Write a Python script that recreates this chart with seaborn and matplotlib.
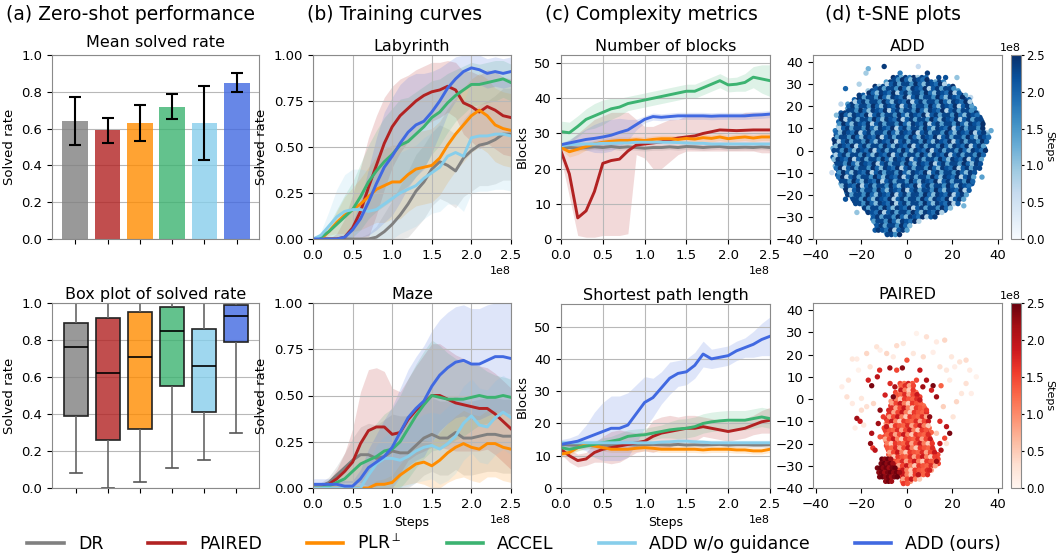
import numpy as np
import pandas as pd
import matplotlib
matplotlib.use("Agg")
import matplotlib.pyplot as plt
import seaborn as sns
from matplotlib.colors import Normalize
from matplotlib.cm import ScalarMappable
from matplotlib.lines import Line2D

# Methods and colours
methods = ['DR', 'PAIRED', 'PLR$^{\\perp}$', 'ACCEL', 'ADD w/o guidance', 'ADD (ours)']
colors = ['gray', 'firebrick', 'darkorange', 'mediumseagreen', 'skyblue', 'royalblue']

# (a) zero-shot performance
mean_rate = [0.64, 0.59, 0.63, 0.72, 0.63, 0.85]
err_low = [0.51, 0.52, 0.53, 0.65, 0.43, 0.80]
err_high = [0.77, 0.66, 0.73, 0.79, 0.83, 0.90]
box_min = [0.08, 0.00, 0.03, 0.11, 0.15, 0.30]
box_q1 = [0.39, 0.26, 0.32, 0.55, 0.41, 0.79]
box_med = [0.76, 0.62, 0.71, 0.85, 0.66, 0.93]
box_q3 = [0.89, 0.92, 0.95, 0.98, 0.86, 0.99]
box_max = [1.00, 1.00, 1.00, 1.00, 1.00, 1.00]

# (b), (c) training curves, x in units of 1e8 steps
steps_1e8 = [0.0, 0.1, 0.2, 0.3, 0.4, 0.5, 0.6, 0.7, 0.8, 0.9, 1.0, 1.1, 1.2,
             1.3, 1.4, 1.5, 1.6, 1.7, 1.8, 1.9, 2.0, 2.1, 2.2, 2.3, 2.4, 2.5]

lab_dr = [0, 0, 0, 0, 0, 0, 0, 0, 0.01, 0.04, 0.08, 0.13, 0.19, 0.26, 0.31, 0.38, 0.42, 0.40, 0.37, 0.44, 0.48, 0.51, 0.52, 0.54, 0.57, 0.57]
lab_paired = [0, 0, 0, 0, 0.01, 0.06, 0.15, 0.28, 0.40, 0.52, 0.61, 0.67, 0.71, 0.75, 0.78, 0.80, 0.81, 0.83, 0.81, 0.74, 0.72, 0.69, 0.72, 0.70, 0.67, 0.66]
lab_plr = [0, 0, 0.04, 0.09, 0.13, 0.16, 0.19, 0.23, 0.27, 0.29, 0.31, 0.31, 0.35, 0.38, 0.39, 0.40, 0.44, 0.51, 0.57, 0.62, 0.67, 0.70, 0.67, 0.62, 0.60, 0.59]
lab_accel = [0, 0.01, 0.04, 0.08, 0.12, 0.16, 0.23, 0.31, 0.37, 0.42, 0.46, 0.51, 0.53, 0.57, 0.61, 0.66, 0.69, 0.74, 0.78, 0.81, 0.84, 0.84, 0.85, 0.86, 0.87, 0.85]
lab_nog = [0, 0.02, 0.07, 0.12, 0.15, 0.16, 0.16, 0.15, 0.16, 0.19, 0.22, 0.25, 0.27, 0.29, 0.33, 0.36, 0.39, 0.45, 0.47, 0.45, 0.55, 0.56, 0.56, 0.57, 0.57, 0.56]
lab_add = [0, 0, 0, 0, 0.01, 0.05, 0.11, 0.20, 0.30, 0.39, 0.45, 0.52, 0.58, 0.62, 0.64, 0.69, 0.75, 0.82, 0.87, 0.91, 0.93, 0.92, 0.90, 0.91, 0.90, 0.91]

lab_dr_sd = [0, 0, 0, 0, 0, 0, 0.01, 0.03, 0.06, 0.10, 0.13, 0.16, 0.18, 0.20, 0.20, 0.20, 0.20, 0.20, 0.20, 0.21, 0.22, 0.22, 0.23, 0.24, 0.25, 0.25]
lab_paired_sd = [0, 0, 0, 0.03, 0.10, 0.18, 0.24, 0.27, 0.27, 0.25, 0.22, 0.20, 0.18, 0.17, 0.16, 0.16, 0.15, 0.14, 0.15, 0.17, 0.19, 0.20, 0.20, 0.21, 0.21, 0.21]
lab_plr_sd = [0, 0, 0.02, 0.06, 0.10, 0.12, 0.14, 0.16, 0.18, 0.20, 0.20, 0.20, 0.20, 0.20, 0.20, 0.20, 0.20, 0.20, 0.20, 0.20, 0.20, 0.20, 0.20, 0.20, 0.20, 0.20]
lab_accel_sd = [0, 0.01, 0.04, 0.08, 0.12, 0.15, 0.18, 0.20, 0.22, 0.24, 0.25, 0.25, 0.24, 0.23, 0.22, 0.20, 0.18, 0.16, 0.14, 0.13, 0.12, 0.11, 0.11, 0.11, 0.10, 0.10]
lab_nog_sd = [0, 0.02, 0.08, 0.15, 0.20, 0.22, 0.22, 0.22, 0.22, 0.22, 0.22, 0.22, 0.22, 0.22, 0.22, 0.22, 0.24, 0.26, 0.28, 0.30, 0.30, 0.30, 0.30, 0.30, 0.30, 0.30]
lab_add_sd = [0, 0, 0, 0, 0.01, 0.04, 0.10, 0.18, 0.25, 0.30, 0.32, 0.32, 0.30, 0.28, 0.26, 0.22, 0.18, 0.14, 0.12, 0.10, 0.08, 0.08, 0.08, 0.08, 0.08, 0.08]

maze_dr = [0.01, 0.01, 0.03, 0.07, 0.11, 0.15, 0.18, 0.18, 0.16, 0.17, 0.20, 0.19, 0.19, 0.23, 0.27, 0.29, 0.27, 0.27, 0.30, 0.27, 0.27, 0.28, 0.29, 0.29, 0.28, 0.28]
maze_paired = [0, 0, 0.02, 0.05, 0.09, 0.14, 0.24, 0.31, 0.33, 0.33, 0.29, 0.30, 0.37, 0.42, 0.46, 0.50, 0.50, 0.48, 0.46, 0.45, 0.44, 0.43, 0.43, 0.40, 0.36, 0.32]
maze_plr = [0, 0, 0, 0, 0, 0, 0, 0, 0.02, 0.02, 0.03, 0.07, 0.10, 0.13, 0.14, 0.12, 0.15, 0.19, 0.22, 0.24, 0.22, 0.21, 0.24, 0.24, 0.22, 0.21]
maze_accel = [0, 0, 0.01, 0.03, 0.05, 0.09, 0.13, 0.15, 0.17, 0.20, 0.21, 0.25, 0.32, 0.39, 0.45, 0.50, 0.49, 0.48, 0.48, 0.48, 0.49, 0.50, 0.49, 0.49, 0.50, 0.49]
maze_nog = [0, 0, 0, 0, 0, 0, 0, 0.07, 0.13, 0.16, 0.16, 0.15, 0.17, 0.20, 0.22, 0.23, 0.21, 0.24, 0.28, 0.35, 0.39, 0.34, 0.33, 0.38, 0.41, 0.38]
maze_add = [0.02, 0.02, 0.02, 0.02, 0.01, 0.01, 0.05, 0.11, 0.14, 0.17, 0.22, 0.30, 0.38, 0.43, 0.47, 0.55, 0.61, 0.65, 0.68, 0.69, 0.67, 0.67, 0.69, 0.71, 0.71, 0.70]

maze_dr_sd = [0.02, 0.02, 0.03, 0.05, 0.08, 0.12, 0.15, 0.17, 0.18, 0.20, 0.20, 0.20, 0.20, 0.20, 0.20, 0.20, 0.20, 0.20, 0.20, 0.20, 0.20, 0.20, 0.20, 0.20, 0.20, 0.20]
maze_paired_sd = [0, 0, 0.02, 0.05, 0.10, 0.18, 0.28, 0.33, 0.32, 0.30, 0.25, 0.22, 0.22, 0.24, 0.26, 0.28, 0.28, 0.27, 0.26, 0.25, 0.24, 0.23, 0.22, 0.22, 0.22, 0.22]
maze_plr_sd = [0, 0, 0, 0, 0, 0, 0, 0.01, 0.02, 0.03, 0.04, 0.06, 0.08, 0.10, 0.12, 0.13, 0.15, 0.16, 0.17, 0.18, 0.18, 0.18, 0.18, 0.18, 0.18, 0.18]
maze_accel_sd = [0, 0, 0.01, 0.03, 0.05, 0.08, 0.12, 0.15, 0.18, 0.20, 0.22, 0.25, 0.27, 0.28, 0.29, 0.30, 0.28, 0.25, 0.22, 0.20, 0.18, 0.16, 0.14, 0.12, 0.10, 0.10]
maze_nog_sd = [0.02, 0.02, 0.02, 0.02, 0.02, 0.02, 0.03, 0.06, 0.10, 0.12, 0.14, 0.15, 0.16, 0.17, 0.18, 0.18, 0.19, 0.20, 0.20, 0.20, 0.20, 0.20, 0.20, 0.20, 0.20, 0.20]
maze_add_sd = [0.03, 0.03, 0.03, 0.03, 0.03, 0.03, 0.05, 0.10, 0.15, 0.20, 0.22, 0.24, 0.26, 0.28, 0.30, 0.30, 0.30, 0.30, 0.30, 0.30, 0.30, 0.30, 0.30, 0.30, 0.30, 0.30]

blk_dr = [26, 26, 25.8, 26, 26.2, 26, 26.3, 26, 26.2, 26, 25.8, 26, 26, 26.2, 26, 26.3, 26.2, 26, 26.2, 26.3, 26, 26, 26.1, 26, 26.2, 26]
blk_paired = [25, 18.5, 6, 8, 13.5, 21.5, 22.3, 22.7, 25, 26.7, 27, 27.3, 27.6, 28.2, 28.7, 29, 29.3, 30, 30.5, 31, 30.9, 30.8, 30.9, 31, 31, 31]
blk_plr = [26, 24.8, 25.5, 26.3, 27, 27.5, 27.8, 28, 28, 28.2, 28, 28.3, 28.5, 28.5, 28.3, 28.6, 28.4, 28.8, 28.6, 29, 28.5, 28.8, 29, 28.7, 29, 29]
blk_accel = [30.5, 30.2, 32, 34, 35, 36, 37, 37.5, 38.5, 39, 39.5, 40, 40.5, 41, 41.5, 42, 42, 43, 44, 45, 43.8, 44, 44.5, 46, 45.5, 45]
blk_nog = [26.5, 26.8, 27, 27, 27, 27.2, 27.2, 27.3, 27.3, 27.5, 27.5, 27.5, 27.5, 27.5, 27.4, 27.3, 27.2, 27.2, 27, 27, 27, 27, 27, 27, 27, 27]
blk_add = [26.8, 27.3, 27.8, 28.3, 28.6, 29, 29.5, 30.3, 31, 32.5, 34, 34.8, 34.6, 34.8, 35, 35, 35, 35, 34.9, 35, 35, 35, 35, 35.2, 35.3, 35.5]

blk_dr_sd = [0.8, 0.8, 0.8, 0.8, 0.8, 0.8, 0.8, 0.8, 0.8, 0.8, 0.8, 0.8, 0.8, 0.8, 0.8, 0.8, 0.8, 0.8, 0.8, 0.8, 0.8, 0.8, 0.8, 0.8, 0.8, 0.8]
blk_paired_lo = [23, 12, 1, 0.5, 0.5, 1, 1, 1, 1.5, 24, 23, 20, 20, 22, 24, 25, 25, 25, 25, 25, 25, 25, 25, 25, 24.5, 24.5]
blk_paired_hi = [27, 28, 30, 32, 34, 35, 36, 36, 36, 34, 32, 32, 33, 34, 34, 35, 35, 35, 35, 35, 35, 35, 36, 36, 36, 36]
blk_plr_sd = [0.5, 1.5, 1.5, 1, 1, 1, 1, 1, 1, 1, 1, 1, 1, 1, 1, 1, 1, 1, 1, 1, 1, 1, 1, 1, 1, 1]
blk_accel_sd = [3, 3, 3, 3, 3.5, 3.5, 3, 2.5, 2, 2, 2, 2, 2, 2, 2, 2, 2, 2, 2, 2, 2, 2, 2.5, 3, 4, 4.5]
blk_nog_sd = [0.6, 0.6, 0.6, 0.6, 0.6, 0.6, 0.6, 0.6, 0.6, 0.6, 0.6, 0.6, 0.6, 0.6, 0.6, 0.6, 0.6, 0.6, 0.6, 0.6, 0.6, 0.6, 0.6, 0.6, 0.6, 0.6]
blk_add_sd = [0.5, 1, 2, 3, 4, 4.5, 4.5, 4, 3, 1.5, 1, 1, 1, 1, 1, 1, 1, 1, 1, 1, 1, 1, 1, 1, 1, 1]

sp_dr = [13.5, 13.3, 13.2, 13.5, 13.5, 13.3, 13.2, 13.4, 13.5, 13.3, 13.4, 13.5, 13.4, 13.3, 13.5, 13.3, 13.4, 13.3, 13.4, 13.5, 13.3, 13.4, 13.4, 13.3, 13.3, 13.4]
sp_paired = [12, 10, 8.5, 9, 11, 12, 12.5, 13, 13.5, 14, 14.5, 16, 17, 17.5, 18, 18.5, 18.5, 19, 18.5, 18, 17.5, 18, 18.5, 19.5, 20.5, 21]
sp_plr = [10.5, 11, 12.5, 13.5, 13, 12.5, 12, 12, 12, 12.3, 12.5, 12.3, 12, 12, 12, 12, 12, 11.8, 12, 12, 12, 11.8, 11.8, 11.5, 11.5, 12]
sp_accel = [12.5, 12, 12.5, 13, 13.5, 14, 14.5, 15, 16, 16.3, 16.5, 17, 17.5, 18, 18.3, 18.5, 19, 20, 20.5, 20.8, 21, 21, 21, 21.5, 22, 21.5]
sp_nog = [14, 14, 14, 14, 14, 14, 14, 14, 14, 14, 14, 14, 14.2, 14.3, 14.5, 14.5, 14.3, 14.2, 14, 14, 14, 14, 14, 14, 14, 14]
sp_add = [13.5, 14, 14.5, 15.5, 16.5, 17.5, 18.5, 18.5, 19.5, 23, 26.5, 28, 31, 34, 35.5, 36, 38, 41.5, 40, 40.5, 41, 42.5, 43.5, 44.5, 46, 47]

sp_dr_sd = [0.8, 0.8, 0.8, 0.8, 0.8, 0.8, 0.8, 0.8, 0.8, 0.8, 0.8, 0.8, 0.8, 0.8, 0.8, 0.8, 0.8, 0.8, 0.8, 0.8, 0.8, 0.8, 0.8, 0.8, 0.8, 0.8]
sp_paired_sd = [1.5, 2, 2, 2, 3, 4, 5, 5, 4, 3, 3, 5, 5, 5, 4, 4, 4, 3, 3, 3, 3, 3, 3, 3, 3.5, 4]
sp_plr_sd = [1, 1, 1, 1, 1, 1, 1, 1, 1, 1, 1, 1, 1, 1, 1, 1, 1, 1, 1, 1, 1, 1, 1, 1, 1, 1]
sp_accel_sd = [1.5, 1, 1, 1, 1, 1.5, 1.5, 2, 2, 2, 2, 2, 2, 2.5, 3, 3, 3, 3, 3, 3, 3, 3, 3, 3, 3, 3]
sp_nog_sd = [0.8, 0.8, 0.8, 0.8, 0.8, 0.8, 0.8, 0.8, 0.8, 0.8, 0.8, 0.8, 0.8, 0.8, 0.8, 0.8, 0.8, 0.8, 0.8, 0.8, 0.8, 0.8, 0.8, 0.8, 0.8, 0.8]
sp_add_sd = [1.5, 1.5, 2, 4, 7, 9, 10, 10, 10, 9, 8, 6, 5, 5, 4, 4, 4, 4, 3, 3, 3, 3, 3, 4, 5, 6]

# (d) t-SNE: dense regions as rows (y, x from, x to), scattered points listed
add_rows_y = [33, 31, 29, 27, 25, 23, 21, 19, 17, 15, 13, 11, 9, 7, 5, 3, 1, -1, -3, -5, -7, -9,
              -11, -13, -15, -17, -19, -21, -23, -25, -27, -29, -31, -33, -35, -37]
add_rows_x0 = [-6, -10, -14, -18, -21, -24, -26, -27, -29, -30, -30, -31, -31.5, -32, -32, -32.5, -32.5, -32.5,
               -32.5, -32, -31.5, -31, -30.5, -30, -29, -28, -26.5, -25, -23, -20, -17.5, -16, -15, -14.5, -13, -10]
add_rows_x1 = [10, 17, 21, 24, 26, 28, 29, 30, 31, 33, 34, 34, 35, 36, 35.5, 35, 35, 34.5,
               34, 33, 32, 31, 30.5, 30, 29, 28, 26.5, 25, 22.5, 20, 17, 13, 6, 2, 1, -2]
add_cycle_a = [2.5, 2.2, 1.3, 2.4, 1.8, 2.5, 0.9, 2.3, 2.0, 1.5, 2.4, 2.1, 0.6, 2.5, 1.7, 2.2, 2.4, 1.2, 2.0]
add_cycle_b = [2.3, 1.6, 2.5, 2.0, 1.1, 2.4, 2.2, 1.9, 2.5, 0.8, 2.1, 2.4, 1.4, 2.3]
add_edge_x = [-10, 5, -17, -18, 14, 17, 22, -27, -21, -29, -31, 35, 37, -33, -27, -22, -25, 33, 31, -3, 9, -14, 25, 28]
add_edge_y = [38, 38, 37, 35, 33, 33, 33, 28, 30, 21, 16, 8, 9, -10, -22, -28, -19, -12, 17, 35, 35, -36, -25, 24]
add_edge_steps = [2.4, 0.6, 1.2, 0.9, 2.3, 2.2, 1.0, 2.0, 0.8, 0.7, 1.1, 0.9, 1.3, 0.6, 2.2, 1.0, 0.8, 1.4, 0.9, 1.8, 2.4, 2.1, 1.2, 0.7]

paired_core_y = [7, 5, 3, 1, -1, -3, -5, -7, -9, -11, -13, -15, -17, -19, -21, -23, -25, -27, -29, -31, -33, -35, -37]
paired_core_x0 = [-3, -4, -5, -6, -7, -8, -8, -9, -9, -10, -10, -10, -10, -10, -9, -9, -8, -7, -6, -5, -4, -3, -2]
paired_core_x1 = [3, 4, 5, 6, 7, 8, 9, 9, 10, 10, 10, 11, 11, 12, 12, 13, 14, 14, 14, 12, 10, 6, 2]
paired_core_cycle_a = [1.5, 1.2, 1.8, 1.4, 0.7, 1.6, 2.0, 1.3, 1.5, 0.9, 1.7, 0.4]
paired_core_cycle_b = [1.3, 1.7, 0.8, 1.5, 1.9, 1.1, 0.5, 1.6, 1.4]
paired_dark_y = [-27, -29, -31, -33, -35, -37]
paired_dark_x0 = [-11, -12, -13, -13, -12, -10]
paired_dark_x1 = [-7, -5, -4, -3, -4, -6]
paired_dark_cycle = [2.5, 2.3, 2.45, 2.2, 2.4]
paired_mid_x = [-22, -20.6, -16, -15, -17, -15.5, -13, -12, -7.5, -4.5, -2, 0, 5.7, 8.6, 11.5, 15, 13, 10.8, 8.6, 10, 14.5,
                17.4, 18.8, 16.6, 14.5, 15, 13, 10, 5, -11.8, -10.4, -9, -12.6, -11.8, -14, -9.6, -6, -5.3, -7.4, 4.2, 7, 5.7, -15.5]
paired_mid_y = [-8.7, -10, -20, -22, 8.5, 6, 10, 13, 14, 13, 14, 17.5, 13, 8.5, 6, 6, 1, 4, -5, -8, -10,
                -12.4, -15.4, -17.6, -20, -23, -28, -32, -34, -5, -8, -12.4, -11, -17, -23, 1.8, 1, 5.5, 7, 8.5, 5.5, -0.4, -15.4]
paired_mid_steps = [2.2, 1.9, 2.3, 1.6, 1.8, 2.4, 2.0, 1.7, 2.2, 1.5, 2.3, 1.4, 1.9, 2.1, 2.4, 1.3, 2.2, 1.8, 1.6, 2.3, 1.7,
                    2.0, 2.4, 1.5, 1.9, 2.1, 2.2, 1.8, 2.0, 2.3, 1.6, 1.9, 2.2, 1.4, 2.0, 1.8, 2.4, 2.1, 1.7, 1.5, 2.2, 1.9, 2.1]
paired_faint_x = [-28.6, -26.4, -24, -22, -17.7, -13.3, -11.8, -4.5, -1.6, 4.2, 8.6, 13, 16.6, 19.6, 21, 23.2, 26, 27.6, 30.5,
                  26, 24, 28.3, 21.8, 20.3, -24, -20, -19, -22.8, -25.7, -21.3, -16.2, -8.9, -6, 2.8, 7.2, 11.5, 14.5, 17.4,
                  18.8, 16, 17.4, 13, -17.7, -14.7, -20]
paired_faint_y = [5.5, 1, 18, 18, 20.5, 23.5, 22, 24, 25, 29.5, 28, 25.7, 26.5, 19, 14.5, 16.7, 17.5, 13, 10,
                  7, 2.5, 2.5, -1.2, -8, -2, -5, -11.7, -13, 8.5, 13, 14.5, 20.5, 19, 20.5, 19, 21, 14.5, 13,
                  8.5, -3.4, -20, -15.4, -3.4, -2, 0.3]
paired_faint_steps = [0.1, 0.3, 0.2, 0.15, 0.4, 0.25, 0.1, 0.35, 0.2, 0.05, 0.3, 0.15, 0.4, 0.2, 0.1, 0.25, 0.35, 0.15, 0.05,
                      0.3, 0.2, 0.1, 0.4, 0.25, 0.15, 0.35, 0.2, 0.1, 0.3, 0.05, 0.25, 0.4, 0.15, 0.2, 0.35, 0.1, 0.3, 0.2,
                      0.15, 0.45, 0.25, 0.5, 0.3, 0.4, 0.2]

plt.rcParams.update({
    'font.family': 'DejaVu Sans',
    'axes.edgecolor': '#8a8a8a',
    'xtick.labelsize': 9.5,
    'ytick.labelsize': 9.5,
    'axes.titlesize': 11.5,
    'axes.labelsize': 9.5,
    'grid.color': '#b8b8b8',
    'grid.linewidth': 0.8,
})

fig = plt.figure(figsize=(10.56, 5.56), dpi=100)


def place(x0, x1, y0, y1):
    return [x0 / 1056, 1 - y1 / 556, (x1 - x0) / 1056, (y1 - y0) / 556]


ax_bar = fig.add_axes(place(52, 259, 55, 239))
ax_box = fig.add_axes(place(52, 259, 303, 488))
ax_lab = fig.add_axes(place(313, 511, 55, 239))
ax_maze = fig.add_axes(place(313, 511, 303, 488))
ax_blk = fig.add_axes(place(561, 770, 55, 239))
ax_sp = fig.add_axes(place(561, 770, 304, 488))
ax_t1 = fig.add_axes(place(813, 1002, 55, 239))
ax_t2 = fig.add_axes(place(813, 1002, 303, 488))
cax1 = fig.add_axes(place(1011, 1021, 55, 239))
cax2 = fig.add_axes(place(1011, 1021, 303, 488))

# ---- (a) bars
sns.barplot(x=methods, y=mean_rate, hue=methods, palette=colors, saturation=1, alpha=0.8,
            width=0.8, legend=False, ax=ax_bar)
m = np.array(mean_rate)
ax_bar.errorbar(range(6), m, yerr=[m - np.array(err_low), np.array(err_high) - m], fmt='none',
                ecolor='black', elinewidth=1.5, capsize=4, capthick=1.5)
ax_bar.set_ylim(0, 1)
ax_bar.set_xlim(-0.72, 5.69)
ax_bar.set_title('Mean solved rate')
ax_bar.set_ylabel('Solved rate')
ax_bar.set_xticks(range(6))
ax_bar.set_xticklabels([])
ax_bar.yaxis.grid(True)
ax_bar.set_axisbelow(True)

# ---- (a) boxes
rows = []
for i, name in enumerate(methods):
    for v in (box_min[i], box_q1[i], box_med[i], box_q3[i], box_max[i]):
        rows.append((name, v))
box_df = pd.DataFrame(rows, columns=['method', 'rate'])
sns.boxplot(data=box_df, x='method', y='rate', hue='method', order=methods, hue_order=methods,
            palette=colors, saturation=1, whis=(0, 100), width=0.73, linecolor='#222222', linewidth=1.2,
            whiskerprops={'color': '#666666'}, capprops={'color': '#555555'},
            medianprops={'color': 'black'}, legend=False, ax=ax_box)
for p in ax_box.patches:
    fc = p.get_facecolor()
    p.set_facecolor((fc[0], fc[1], fc[2], 0.8))
ax_box.set_ylim(0, 1)
ax_box.set_xlim(-0.75, 5.72)
ax_box.set_title('Box plot of solved rate', pad=3)
ax_box.set_ylabel('Solved rate')
ax_box.set_xlabel('')
ax_box.set_xticklabels([])
ax_box.yaxis.grid(True)
ax_box.set_axisbelow(True)


# ---- (b)/(c) curves
def draw_curves(ax, means, sds, ylim, title, ylabel, band_override=None):
    x = np.array(steps_1e8) * 1e8
    rows = []
    for name, vals in zip(methods, means):
        for s, v in zip(x, vals):
            rows.append((s, v, name))
    df = pd.DataFrame(rows, columns=['step', 'value', 'method'])
    for i, (vals, sd) in enumerate(zip(means, sds)):
        v = np.array(vals, dtype=float)
        if band_override is not None and i in band_override:
            lo, hi = (np.array(a, dtype=float) for a in band_override[i])
        else:
            lo, hi = v - np.array(sd), v + np.array(sd)
        ax.fill_between(x, np.clip(lo, ylim[0], ylim[1]), np.clip(hi, ylim[0], ylim[1]),
                        color=colors[i], alpha=0.17, lw=0)
    sns.lineplot(data=df, x='step', y='value', hue='method', hue_order=methods, palette=colors,
                 lw=2.1, errorbar=None, legend=False, ax=ax)
    ax.set_xlim(0, 2.5e8)
    ax.set_ylim(*ylim)
    ax.set_xticks([0, 0.5e8, 1.0e8, 1.5e8, 2.0e8, 2.5e8])
    ax.set_title(title, pad=3)
    ax.set_ylabel(ylabel)
    ax.set_xlabel('')
    ax.grid(True)
    ax.xaxis.get_offset_text().set_fontsize(8)


draw_curves(ax_lab, [lab_dr, lab_paired, lab_plr, lab_accel, lab_nog, lab_add],
            [lab_dr_sd, lab_paired_sd, lab_plr_sd, lab_accel_sd, lab_nog_sd, lab_add_sd],
            (0, 1), 'Labyrinth', 'Solved rate')
ax_lab.set_yticks([0, 0.25, 0.5, 0.75, 1.0])
draw_curves(ax_maze, [maze_dr, maze_paired, maze_plr, maze_accel, maze_nog, maze_add],
            [maze_dr_sd, maze_paired_sd, maze_plr_sd, maze_accel_sd, maze_nog_sd, maze_add_sd],
            (0, 1), 'Maze', 'Solved rate')
ax_maze.set_yticks([0, 0.25, 0.5, 0.75, 1.0])
ax_maze.set_xlabel('Steps', fontsize=9)
draw_curves(ax_blk, [blk_dr, blk_paired, blk_plr, blk_accel, blk_nog, blk_add],
            [blk_dr_sd, blk_dr_sd, blk_plr_sd, blk_accel_sd, blk_nog_sd, blk_add_sd],
            (0, 52.3), 'Number of blocks', 'Blocks', band_override={1: (blk_paired_lo, blk_paired_hi)})
ax_blk.set_yticks([0, 10, 20, 30, 40, 50])
draw_curves(ax_sp, [sp_dr, sp_paired, sp_plr, sp_accel, sp_nog, sp_add],
            [sp_dr_sd, sp_paired_sd, sp_plr_sd, sp_accel_sd, sp_nog_sd, sp_add_sd],
            (0, 57), 'Shortest path length', 'Blocks')
ax_sp.set_yticks([0, 10, 20, 30, 40, 50])
ax_sp.set_xlabel('Steps', fontsize=9)


# ---- (d) t-SNE
def rows_to_points(ys, x0s, x1s, spacing, cycle, dy=0.0, dx=0.0):
    px, py, pc = [], [], []
    k = 0
    for j, (y, a, b) in enumerate(zip(ys, x0s, x1s)):
        xv = a + dx + (spacing / 2 if j % 2 else 0)
        while xv <= b:
            px.append(xv)
            py.append(y + dy)
            pc.append(cycle[k % len(cycle)])
            k += 1
            xv += spacing
    return pd.DataFrame({'x': px, 'y': py, 'steps': pc})


def tsne_panel(ax, cax, frames, cmap, title):
    df = pd.concat(frames, ignore_index=True)
    df['steps'] = df['steps'] * 1e8
    sns.scatterplot(data=df, x='x', y='y', hue='steps', palette=cmap, hue_norm=(0, 2.5e8),
                    s=15, linewidth=0, legend=False, ax=ax)
    ax.set_xlim(-41.3, 41.8)
    ax.set_ylim(-40, 43.2)
    ax.set_xticks([-40, -20, 0, 20, 40])
    ax.set_yticks([-40, -30, -20, -10, 0, 10, 20, 30, 40])
    ax.set_xlabel('')
    ax.set_ylabel('')
    ax.set_title(title, pad=3)
    cb = fig.colorbar(ScalarMappable(norm=Normalize(0, 2.5e8), cmap=cmap), cax=cax)
    cb.ax.tick_params(labelsize=8.5, length=2.5, pad=1.2)
    cb.ax.yaxis.get_offset_text().set_fontsize(8)
    cb.outline.set_edgecolor('#8a8a8a')
    cb.set_label('Steps', rotation=270, labelpad=7, fontsize=8)


tsne_panel(ax_t1, cax1, [
    pd.DataFrame({'x': add_edge_x, 'y': add_edge_y, 'steps': add_edge_steps}),
    rows_to_points(add_rows_y, add_rows_x0, add_rows_x1, 1.8, add_cycle_a),
    rows_to_points(add_rows_y, add_rows_x0, add_rows_x1, 1.8, add_cycle_b, dy=-1.0, dx=0.45),
], 'Blues', 'ADD')

tsne_panel(ax_t2, cax2, [
    pd.DataFrame({'x': paired_faint_x, 'y': paired_faint_y, 'steps': paired_faint_steps}),
    rows_to_points(paired_core_y, paired_core_x0, paired_core_x1, 1.8, paired_core_cycle_a),
    rows_to_points(paired_core_y, paired_core_x0, paired_core_x1, 1.8, paired_core_cycle_b, dy=-1.0, dx=0.45),
    pd.DataFrame({'x': paired_mid_x, 'y': paired_mid_y, 'steps': paired_mid_steps}),
    rows_to_points(paired_dark_y, paired_dark_x0, paired_dark_x1, 1.3, paired_dark_cycle),
], 'Reds', 'PAIRED')

# column titles
for xc, txt in [(131, '(a) Zero-shot performance'), (395, '(b) Training curves'),
                (651, '(c) Complexity metrics'), (893, '(d) t-SNE plots')]:
    fig.text(xc / 1056, 1 - 15 / 556, txt, ha='center', va='center', fontsize=13.5)

# shared legend
handles = [Line2D([0], [0], color=c, lw=2.6) for c in colors]
fig.legend(handles, methods, loc='center', bbox_to_anchor=(0.487, 1 - 543 / 556), ncol=6,
           frameon=False, fontsize=12.5, handlelength=2.1, handletextpad=0.8, columnspacing=2.6)

fig.savefig('out.png', dpi=100)
